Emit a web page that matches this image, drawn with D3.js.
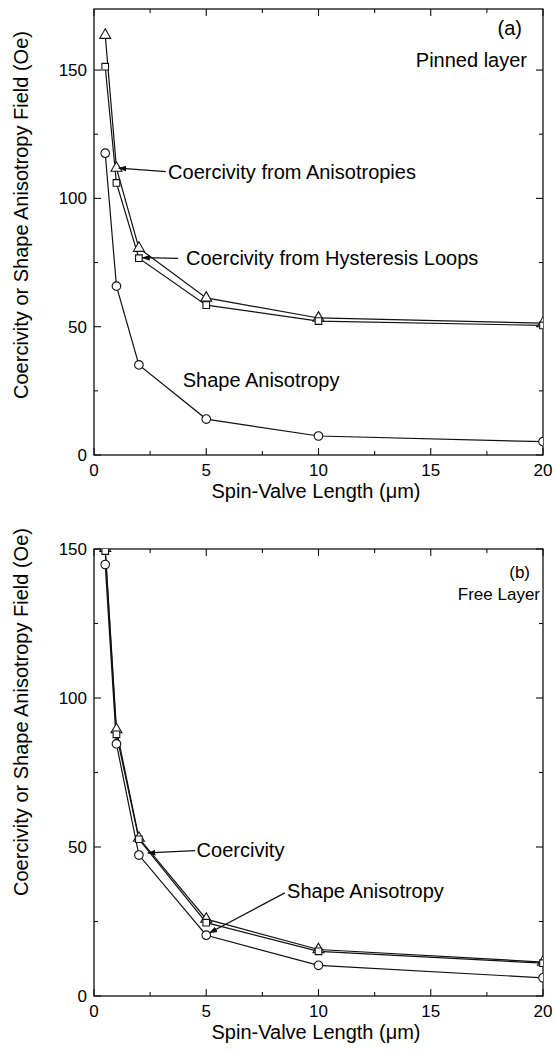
<!DOCTYPE html>
<html>
<head>
<meta charset="utf-8">
<script src="https://cdn.jsdelivr.net/npm/d3@7"></script>
<style>
  body { margin: 0; background: #fff; }
  svg { display: block; font-family: "Liberation Sans", Arial, sans-serif; }
</style>
</head>
<body>
<svg id="chart" width="555" height="1057"></svg>
<script>
// spin-valve lengths (um)
const lengths = [0.5, 1, 2, 5, 10, 20];

// panel (a) pinned layer
const pinnedAniso = [163.6, 111.8, 80.6, 61.2, 53.4, 51.4];
const pinnedHyst = [151.3, 106.0, 76.7, 58.4, 52.2, 50.5];
const pinnedShape = [117.6, 65.8, 35.1, 14.0, 7.4, 5.2];

// panel (b) free layer
const freeAniso = [150.2, 89.4, 53.0, 25.8, 15.6, 11.4];
const freeHyst = [149.3, 87.8, 52.6, 24.6, 15.0, 11.0];
const freeShape = [144.8, 84.6, 47.3, 20.4, 10.3, 6.1];

const xTicks = [0, 5, 10, 15, 20];
const xMinor = [2.5, 7.5, 12.5, 17.5];
const yTicks = [0, 50, 100, 150];
const yMinor = [25, 75, 125];

const svg = d3.select("#chart");

function drawPanel(cfg) {
  const x = d3.scaleLinear().domain([0, 20]).range([94, 543]);
  const y = d3.scaleLinear().domain([0, cfg.yMax]).range([cfg.bottom, cfg.top]);
  const g = svg.append("g");

  const clipId = "clip-" + cfg.id;
  svg.append("clipPath").attr("id", clipId)
    .append("rect")
    .attr("x", x(0)).attr("y", y(cfg.yMax))
    .attr("width", x(20) - x(0)).attr("height", y(0) - y(cfg.yMax));

  // frame
  g.append("rect")
    .attr("x", x(0)).attr("y", y(cfg.yMax))
    .attr("width", x(20) - x(0)).attr("height", y(0) - y(cfg.yMax))
    .attr("fill", "none").attr("stroke", "#111").attr("stroke-width", 1.3);

  // inward ticks on all four sides
  const tickLine = (x1, y1, x2, y2) => g.append("line")
    .attr("x1", x1).attr("y1", y1).attr("x2", x2).attr("y2", y2)
    .attr("stroke", "#111").attr("stroke-width", 1.1);
  xTicks.forEach(v => { tickLine(x(v), y(0), x(v), y(0) - 7); tickLine(x(v), y(cfg.yMax), x(v), y(cfg.yMax) + 7); });
  xMinor.forEach(v => { tickLine(x(v), y(0), x(v), y(0) - 4); tickLine(x(v), y(cfg.yMax), x(v), y(cfg.yMax) + 4); });
  yTicks.forEach(v => { tickLine(x(0), y(v), x(0) + 7, y(v)); tickLine(x(20), y(v), x(20) - 7, y(v)); });
  yMinor.forEach(v => { tickLine(x(0), y(v), x(0) + 4, y(v)); tickLine(x(20), y(v), x(20) - 4, y(v)); });

  // tick labels
  g.selectAll(".xt").data(xTicks).join("text")
    .attr("x", d => x(d)).attr("y", y(0) + 21)
    .attr("text-anchor", "middle").attr("font-size", 17).text(d => d);
  g.selectAll(".yt").data(yTicks).join("text")
    .attr("x", x(0) - 7).attr("y", d => y(d) + 6)
    .attr("text-anchor", "end").attr("font-size", 17).text(d => d);

  // axis titles
  g.append("text")
    .attr("x", 316).attr("y", y(0) + 43)
    .attr("text-anchor", "middle").attr("font-size", 20)
    .text("Spin-Valve Length (\u03bcm)");
  g.append("text")
    .attr("transform", `translate(28,${cfg.yLabelCenter}) rotate(-90)`)
    .attr("text-anchor", "middle").attr("font-size", 20)
    .text("Coercivity or Shape Anisotropy Field (Oe)");

  // series
  const plot = g.append("g").attr("clip-path", `url(#${clipId})`);
  const line = d3.line().x(d => x(d[0])).y(d => y(d[1]));
  const sym = {
    triangle: d3.symbol().type(d3.symbolTriangle).size(52),
    square: d3.symbol().type(d3.symbolSquare).size(44),
    circle: d3.symbol().type(d3.symbolCircle).size(58)
  };
  cfg.series.forEach(s => {
    const pts = lengths.map((l, i) => [l, s.values[i]]);
    plot.append("path").datum(pts)
      .attr("d", line).attr("fill", "none")
      .attr("stroke", "#111").attr("stroke-width", 1.2);
  });
  cfg.series.forEach(s => {
    const pts = lengths.map((l, i) => [l, s.values[i]]);
    plot.selectAll(null).data(pts).join("path")
      .attr("transform", d => `translate(${x(d[0])},${y(d[1])})`)
      .attr("d", sym[s.shape])
      .attr("fill", "#fff").attr("stroke", "#111").attr("stroke-width", 1.1);
  });

  // panel tag and name
  g.append("text").attr("x", cfg.tagX).attr("y", y(cfg.yMax) + cfg.tagDy)
    .attr("text-anchor", "end").attr("font-size", cfg.tagSize).text(cfg.tag);
  g.append("text").attr("x", cfg.nameX).attr("y", y(cfg.yMax) + cfg.nameDy)
    .attr("text-anchor", "end").attr("font-size", cfg.tagSize).text(cfg.name);

  // annotations
  const defs = svg.append("defs");
  defs.append("marker").attr("id", "arr-" + cfg.id)
    .attr("viewBox", "0 0 10 10").attr("refX", 9).attr("refY", 5)
    .attr("markerWidth", 7).attr("markerHeight", 7).attr("orient", "auto")
    .append("path").attr("d", "M0,1.5 L10,5 L0,8.5 Z").attr("fill", "#111");
  cfg.notes.forEach(n => {
    g.append("text").attr("x", x(n.at[0])).attr("y", y(n.at[1]))
      .attr("font-size", 20).text(n.text);
    if (n.from) {
      g.append("line")
        .attr("x1", x(n.from[0])).attr("y1", y(n.from[1]))
        .attr("x2", x(n.to[0])).attr("y2", y(n.to[1]))
        .attr("stroke", "#111").attr("stroke-width", 1.2)
        .attr("marker-end", `url(#arr-${cfg.id})`);
    }
  });
}

drawPanel({
  id: "a", top: 9, bottom: 455, yMax: 173.8, yLabelCenter: 215,
  tag: "(a)", tagX: 522, name: "Pinned layer", nameX: 527,
  tagDy: 26, nameDy: 58, tagSize: 20,
  series: [
    { values: pinnedAniso, shape: "triangle" },
    { values: pinnedHyst, shape: "square" },
    { values: pinnedShape, shape: "circle" }
  ],
  notes: [
    { text: "Coercivity from Anisotropies", at: [3.3, 107.5], from: [3.2, 110.4], to: [1.1, 111.8] },
    { text: "Coercivity from Hysteresis Loops", at: [4.1, 74.2], from: [3.75, 76.6], to: [2.15, 76.9] },
    { text: "Shape Anisotropy", at: [3.95, 26.5] }
  ]
});

drawPanel({
  id: "b", top: 549, bottom: 996, yMax: 150, yLabelCenter: 712,
  tag: "(b)", tagX: 530, name: "Free Layer", nameX: 540,
  tagDy: 29, nameDy: 51, tagSize: 17,
  series: [
    { values: freeAniso, shape: "triangle" },
    { values: freeHyst, shape: "square" },
    { values: freeShape, shape: "circle" }
  ],
  notes: [
    { text: "Coercivity", at: [4.57, 46.7], from: [4.5, 48.8], to: [2.4, 48.0] },
    { text: "Shape Anisotropy", at: [8.6, 32.8], from: [8.5, 34.6], to: [5.15, 21.2] }
  ]
});
</script>
</body>
</html>
